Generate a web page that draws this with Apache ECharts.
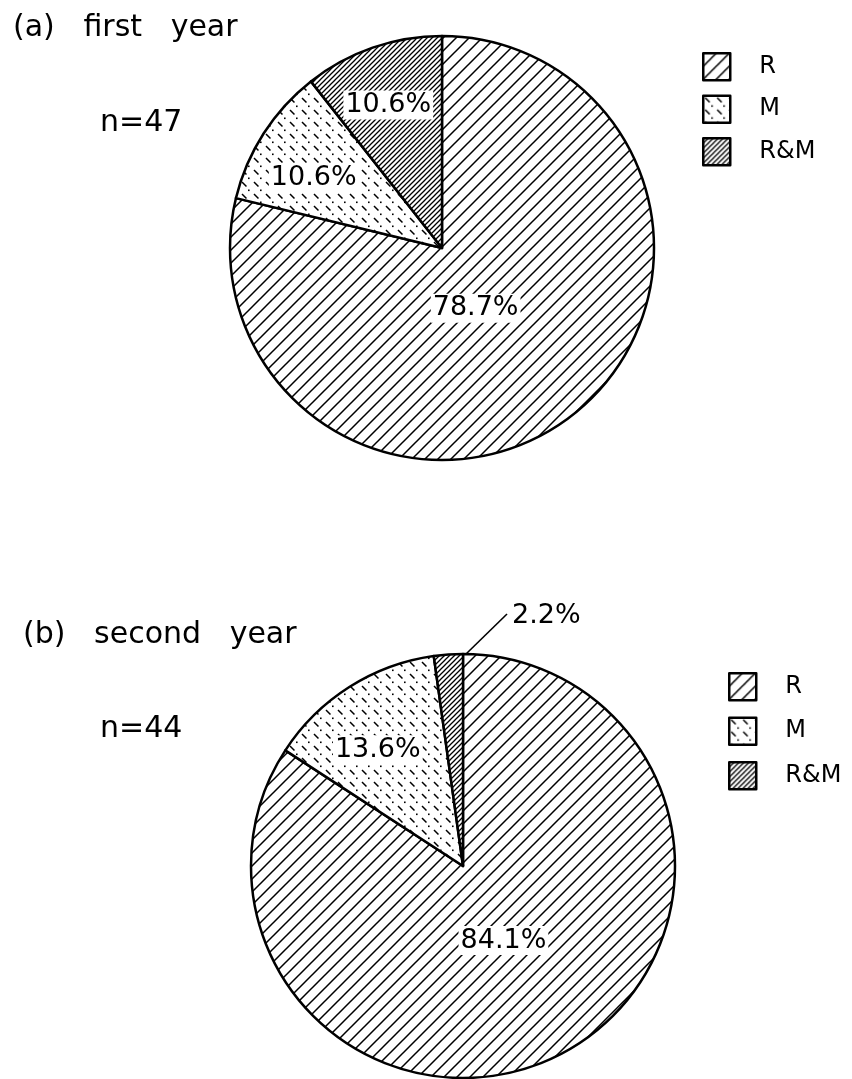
<!DOCTYPE html>
<html>
<head>
<meta charset="utf-8">
<script src="https://cdn.jsdelivr.net/npm/echarts@6/dist/echarts.min.js"></script>
<style>
  html, body { margin: 0; padding: 0; background: #fff; }
  #chart { width: 852px; height: 1079px; }
</style>
</head>
<body>
<div id="chart"></div>
<script>
// ---- data ----
const categories = ['R', 'M', 'R&M'];
const firstYear = [78.7, 10.6, 10.6];
const secondYear = [84.1, 13.6, 2.2];
const panelTitles = ['(a)   first   year', '(b)   second   year'];
const sampleSizes = ['n=47', 'n=44'];

// ---- hatch patterns ----
function makeTile(size, draw) {
  const c = document.createElement('canvas');
  c.width = size; c.height = size;
  const ctx = c.getContext('2d');
  ctx.fillStyle = '#fff';
  ctx.fillRect(0, 0, size, size);
  ctx.strokeStyle = '#000';
  ctx.fillStyle = '#000';
  draw(ctx, size);
  return c;
}
function slashLines(lw) {
  return function (ctx, s) {
    ctx.lineWidth = lw;
    ctx.beginPath();
    for (let k = -1; k <= 1; k++) {
      ctx.moveTo(k * s - 1, s + 1);
      ctx.lineTo(k * s + s + 1, -1);
    }
    ctx.stroke();
  };
}
const patR = { image: makeTile(13, slashLines(1.5)), repeat: 'repeat' };
const patRM = { image: makeTile(5, slashLines(1.3)), repeat: 'repeat' };
const patM = {
  image: makeTile(12, function (ctx, s) {
    ctx.lineWidth = 1.5;
    ctx.beginPath();
    ctx.moveTo(2, 2); ctx.lineTo(6.5, 6.5);
    ctx.stroke();
    ctx.fillRect(8, 9.5, 1.6, 1.6);
  }),
  repeat: 'repeat'
};
const patterns = [patR, patM, patRM];

// ---- layout (label placement: [angle offset from slice bisector in deg, radius fraction]) ----
const pies = [
  { values: firstYear, cx: 442, cy: 248, r: 212,
    place: [[9, 0.325], [-4, 0.69], [-1.5, 0.72]] },
  { values: secondYear, cx: 463, cy: 866, r: 212,
    place: [[0, 0.40], [-3.8, 0.68], null] }
];
const FONT = 'DejaVu Sans';

function midAngle(values, idx) {
  const total = values.reduce((a, b) => a + b, 0);
  let start = 0;
  for (let i = 0; i < idx; i++) start += values[i];
  return (start + values[idx] / 2) / total * 2 * Math.PI;
}
function endAngle(values, idx) {
  const total = values.reduce((a, b) => a + b, 0);
  let end = 0;
  for (let i = 0; i <= idx; i++) end += values[i];
  return end / total * 2 * Math.PI;
}

function buildData(values, smallOutside) {
  return categories.map((name, i) => {
    const d = { name: name, value: values[i], itemStyle: { color: patterns[i] } };
    if (smallOutside && i === 2) {
      d.label = { position: 'outside', backgroundColor: 'transparent' };
      d.labelLine = { show: true };
    }
    return d;
  });
}

function pieSeries(p, idx) {
  return {
    type: 'pie',
    name: idx === 0 ? 'first year' : 'second year',
    center: [p.cx, p.cy],
    radius: p.r,
    startAngle: 90,
    clockwise: true,
    avoidLabelOverlap: false,
    silent: true,
    itemStyle: { borderColor: '#000', borderWidth: 2.5 },
    label: {
      show: true,
      position: 'inside',
      formatter: (prm) => prm.value.toFixed(1) + '%',
      fontFamily: FONT,
      fontSize: 27,
      color: '#000',
      backgroundColor: '#fff',
      padding: [1, 2]
    },
    labelLine: { show: false, lineStyle: { color: '#000', width: 1.6 } },
    emphasis: { disabled: true },
    labelLayout: function (params) {
      const i = params.dataIndex;
      const pl = p.place[i];
      if (pl == null) {
        const a = endAngle(p.values, i);
        const ex = p.cx + p.r * Math.sin(a) + 3;
        const ey = p.cy - p.r * Math.cos(a);
        const lx = ex + 41, ly = ey - 40;
        return {
          x: lx + 3, y: ly + 2, align: 'left', verticalAlign: 'middle',
          labelLinePoints: [[ex, ey], [(ex + lx) / 2, (ey + ly) / 2], [lx, ly]]
        };
      }
      const a = midAngle(p.values, i) + pl[0] * Math.PI / 180;
      return {
        x: p.cx + pl[1] * p.r * Math.sin(a),
        y: p.cy - pl[1] * p.r * Math.cos(a),
        align: 'center', verticalAlign: 'middle'
      };
    },
    data: buildData(p.values, idx === 1)
  };
}

const titleStyle = { fontFamily: FONT, fontSize: 30, fontWeight: 'normal', color: '#000' };
const legendBase = {
  orient: 'vertical',
  icon: 'rect',
  itemWidth: 27,
  itemHeight: 27,
  itemGap: 13,
  padding: 0,
  selectedMode: false,
  itemStyle: { borderColor: '#000', borderWidth: 2.5 },
  textStyle: { fontFamily: FONT, fontSize: 24, color: '#000', padding: [0, 0, 0, 24] },
  data: categories
};

const chart = echarts.init(document.getElementById('chart'), null, { renderer: 'canvas' });
chart.setOption({
  backgroundColor: '#fff',
  animation: false,
  title: [
    { text: panelTitles[0], left: 13, top: 13, padding: 0, textStyle: titleStyle },
    { text: sampleSizes[0], left: 100, top: 108, padding: 0, textStyle: titleStyle },
    { text: panelTitles[1], left: 23, top: 620, padding: 0, textStyle: titleStyle },
    { text: sampleSizes[1], left: 100, top: 714, padding: 0, textStyle: titleStyle }
  ],
  legend: [
    Object.assign({}, legendBase, { left: 702, top: 52 }),
    Object.assign({}, legendBase, { left: 728, top: 672, itemGap: 15 })
  ],
  series: pies.map(pieSeries)
});
</script>
</body>
</html>
